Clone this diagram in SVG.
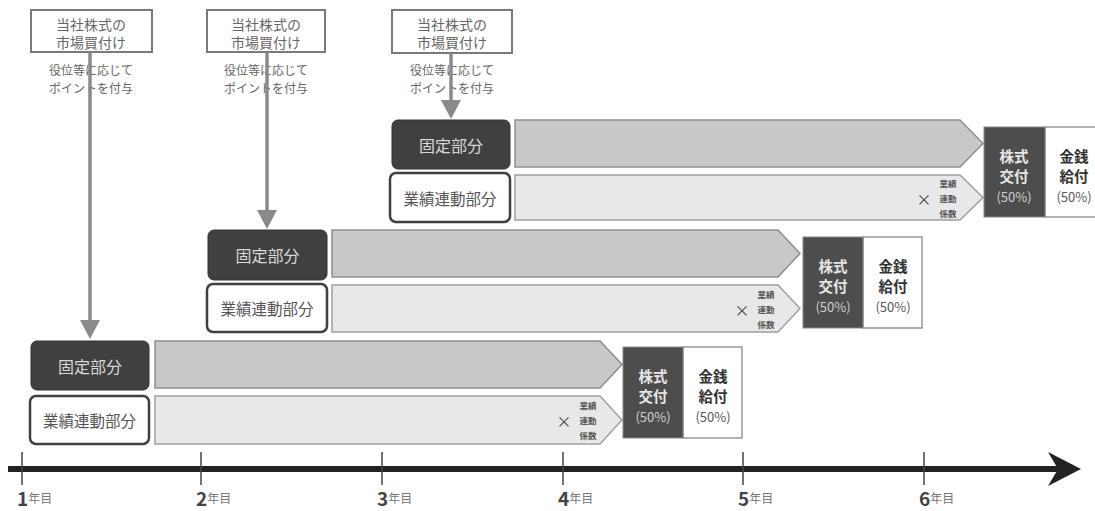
<svg xmlns="http://www.w3.org/2000/svg" width="1095" height="511" viewBox="0 0 1095 511">
<defs>
<style>
text{font-family:"Noto Sans CJK JP","Liberation Sans",sans-serif;text-anchor:middle;dominant-baseline:central}
.buy{fill:#fff;stroke:#7a7a7a;stroke-width:2}
.buyt{font-size:14px;fill:#666}
.pt{font-size:12px;fill:#666}
.conn{stroke:#8a8a8a;stroke-width:3.5;fill:none}
.ah{fill:#8a8a8a}
.fix{fill:#404040;stroke:#333;stroke-width:1}
.fixt{font-size:16px;fill:#d8d8d8}
.perf{fill:#fff;stroke:#404040;stroke-width:2.5}
.perft{font-size:15.5px;fill:#555}
.fbar{fill:#c8c8c8;stroke:#8e8e8e;stroke-width:1.5}
.pbar{fill:#e8e8e8;stroke:#a0a0a0;stroke-width:1.5}
.x{font-size:15px;fill:#444}
.tiny{font-size:8.5px;fill:#555;font-weight:bold}
.pd{fill:#4d4d4d;stroke:#888;stroke-width:1}
.pw{fill:#fff;stroke:#999;stroke-width:1.5}
.pdt{font-size:14.5px;font-weight:bold;fill:#e6e6e6}
.pdp{font-size:13px;fill:#cfcfcf}
.pwt{font-size:14.5px;font-weight:bold;fill:#333}
.pwp{font-size:13px;fill:#555}
.tick{stroke:#444;stroke-width:1.5}
.yn{font-size:19px;font-weight:bold;fill:#444;text-anchor:start}
.yl{font-size:12px;fill:#777;font-weight:normal}
</style>
</defs>
<rect width="1095" height="511" fill="#fff"/>

<!-- Set 1 -->
<g id="buy1"><rect class="buy" x="31" y="10" width="121" height="42"/><text class="buyt" x="91" y="24">当社株式の</text><text class="buyt" x="91" y="42">市場買付け</text></g>
<g id="grant1"><text class="pt" x="91" y="69">役位等に応じて</text><text class="pt" x="91" y="87">ポイントを付与</text></g>
<g id="fixed1"><rect class="fix" x="31" y="341" width="118" height="49" rx="6"/><text class="fixt" x="90" y="366">固定部分</text></g>
<g id="perf1"><rect class="perf" x="30" y="396" width="119" height="48" rx="6"/><text class="perft" x="89.5" y="420">業績連動部分</text></g>
<g id="fbar1"><polygon class="fbar" points="155,341 600,341 622,364.5 600,388 155,388"/></g>
<g id="pbar1"><polygon class="pbar" points="155,396 600,396 622,420 600,444 155,444"/><text class="x" x="564" y="420">×</text><text class="tiny" x="588" y="405">業績</text><text class="tiny" x="588" y="420">連動</text><text class="tiny" x="588" y="435">係数</text></g>
<g id="pay1"><rect class="pw" x="683" y="347" width="59" height="91"/><rect class="pd" x="623" y="347" width="60" height="91"/><text class="pdt" x="653" y="375">株式</text><text class="pdt" x="653" y="395">交付</text><text class="pdp" x="653" y="416">(50%)</text><text class="pwt" x="713" y="375">金銭</text><text class="pwt" x="713" y="395">給付</text><text class="pwp" x="713" y="416">(50%)</text></g>

<!-- Set 2 -->
<g id="buy2"><rect class="buy" x="207" y="10" width="118" height="42"/><text class="buyt" x="266" y="24">当社株式の</text><text class="buyt" x="266" y="42">市場買付け</text></g>
<g id="grant2"><text class="pt" x="266" y="69">役位等に応じて</text><text class="pt" x="266" y="87">ポイントを付与</text></g>
<g id="fixed2"><rect class="fix" x="208" y="230" width="119" height="50" rx="6"/><text class="fixt" x="267.5" y="255">固定部分</text></g>
<g id="perf2"><rect class="perf" x="207" y="284" width="120" height="48" rx="6"/><text class="perft" x="267" y="308">業績連動部分</text></g>
<g id="fbar2"><polygon class="fbar" points="332,230 778,230 800,253.5 778,277 332,277"/></g>
<g id="pbar2"><polygon class="pbar" points="332,285 778,285 800,308.5 778,332 332,332"/><text class="x" x="742" y="309">×</text><text class="tiny" x="766" y="294">業績</text><text class="tiny" x="766" y="309">連動</text><text class="tiny" x="766" y="324">係数</text></g>
<g id="pay2"><rect class="pw" x="863" y="237" width="59" height="91"/><rect class="pd" x="803" y="237" width="60" height="91"/><text class="pdt" x="833" y="265">株式</text><text class="pdt" x="833" y="285">交付</text><text class="pdp" x="833" y="306">(50%)</text><text class="pwt" x="893" y="265">金銭</text><text class="pwt" x="893" y="285">給付</text><text class="pwp" x="893" y="306">(50%)</text></g>

<!-- Set 3 -->
<g id="buy3"><rect class="buy" x="392" y="10" width="120" height="43"/><text class="buyt" x="452" y="24">当社株式の</text><text class="buyt" x="452" y="42">市場買付け</text></g>
<g id="grant3"><text class="pt" x="452" y="69">役位等に応じて</text><text class="pt" x="452" y="87">ポイントを付与</text></g>
<g id="fixed3"><rect class="fix" x="392" y="120" width="118" height="49" rx="6"/><text class="fixt" x="451" y="145">固定部分</text></g>
<g id="perf3"><rect class="perf" x="390" y="173" width="120" height="49" rx="6"/><text class="perft" x="450" y="197.5">業績連動部分</text></g>
<g id="fbar3"><polygon class="fbar" points="515,120 960,120 983,143.5 960,167 515,167"/></g>
<g id="pbar3"><polygon class="pbar" points="515,175 960,175 983,197.5 960,220 515,220"/><text class="x" x="924" y="198">×</text><text class="tiny" x="948" y="183">業績</text><text class="tiny" x="948" y="198">連動</text><text class="tiny" x="948" y="213">係数</text></g>
<g id="pay3"><rect class="pw" x="1045" y="127" width="60" height="90"/><rect class="pd" x="984" y="127" width="61" height="90"/><text class="pdt" x="1014" y="155">株式</text><text class="pdt" x="1014" y="175">交付</text><text class="pdp" x="1014" y="196">(50%)</text><text class="pwt" x="1074" y="155">金銭</text><text class="pwt" x="1074" y="175">給付</text><text class="pwp" x="1074" y="196">(50%)</text></g>

<!-- Connectors -->
<g id="connectors">
<line class="conn" x1="90" y1="52" x2="90" y2="322"/><polygon class="ah" points="80,320 100,320 90,339"/>
<line class="conn" x1="267" y1="52" x2="267" y2="212"/><polygon class="ah" points="257,210 277,210 267,229"/>
<line class="conn" x1="451" y1="53" x2="451" y2="102"/><polygon class="ah" points="441,100 461,100 451,119"/>
</g>

<!-- Timeline -->
<g id="timeline">
<line x1="8" y1="469" x2="1060" y2="469" stroke="#222" stroke-width="6"/>
<polygon points="1048,452 1081,469 1048,486 1058,469" fill="#222"/>
<line class="tick" x1="22" y1="452" x2="22" y2="485"/>
<line class="tick" x1="201" y1="452" x2="201" y2="485"/>
<line class="tick" x1="382" y1="452" x2="382" y2="485"/>
<line class="tick" x1="563" y1="452" x2="563" y2="485"/>
<line class="tick" x1="743" y1="452" x2="743" y2="485"/>
<line class="tick" x1="924" y1="452" x2="924" y2="485"/>
<text class="yn" x="17" y="497">1<tspan class="yl">年目</tspan></text>
<text class="yn" x="196" y="497">2<tspan class="yl">年目</tspan></text>
<text class="yn" x="377" y="497">3<tspan class="yl">年目</tspan></text>
<text class="yn" x="558" y="497">4<tspan class="yl">年目</tspan></text>
<text class="yn" x="738" y="497">5<tspan class="yl">年目</tspan></text>
<text class="yn" x="919" y="497">6<tspan class="yl">年目</tspan></text>
</g>
</svg>
